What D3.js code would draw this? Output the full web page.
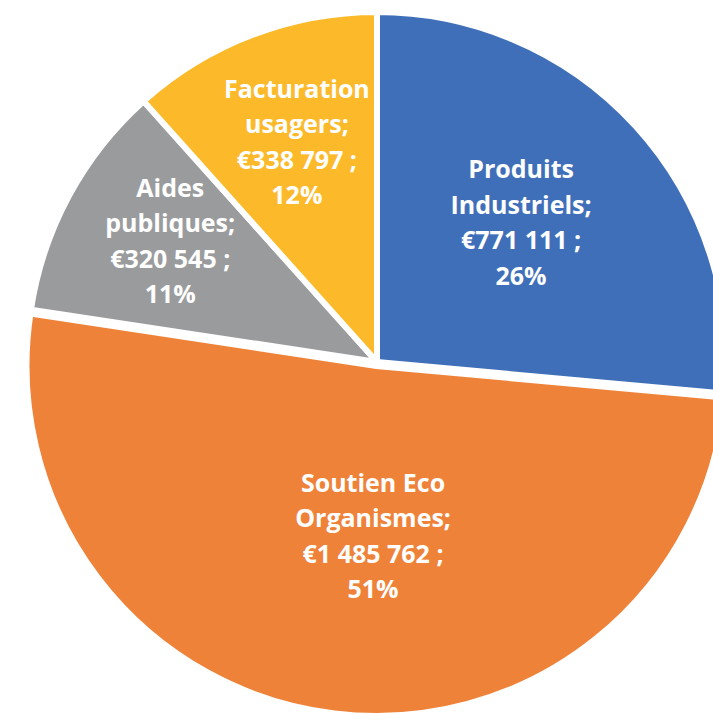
<!DOCTYPE html>
<html>
<head>
<meta charset="utf-8">
<script src="https://cdn.jsdelivr.net/npm/d3@7"></script>
<style>
html, body { margin: 0; padding: 0; background: #ffffff; }
svg { display: block; }
</style>
</head>
<body>
<svg id="chart" width="713" height="714"></svg>
<script>
// ---- data ----
const categories = ["Produits Industriels", "Soutien Eco Organismes", "Aides publiques", "Facturation usagers"];
const values = [771111, 1485762, 320545, 338797];
const percents = ["26%", "51%", "11%", "12%"];
const labelLines = [
  ["Produits", "Industriels;", "€771 111 ;", "26%"],
  ["Soutien Eco", "Organismes;", "€1 485 762 ;", "51%"],
  ["Aides", "publiques;", "€320 545 ;", "11%"],
  ["Facturation", "usagers;", "€338 797 ;", "12%"]
];
const colors = ["#3F6FB8", "#EF8239", "#9A9B9D", "#FCBA2B"];

// ---- layout ----
const cx = 377, cy = 362, R = 350;
const explode = [0, 4, 0, 0];
const labelRadius = [200, 175, 239, 233];
const labelAngleShift = [-1.5, -5.6, 1.7, 0.8]; // degrees
const lineHeight = 35.5;

const svg = d3.select("#chart");
const g = svg.append("g").attr("transform", `translate(${cx},${cy})`);

const pie = d3.pie().sort(null).value(d => d)(values);
const arc = d3.arc().innerRadius(0).outerRadius(R);

g.selectAll("path.slice")
  .data(pie)
  .join("path")
  .attr("class", "slice")
  .attr("d", arc)
  .attr("fill", (d, i) => colors[i])
  .attr("stroke", "#ffffff")
  .attr("stroke-width", 6)
  .attr("stroke-linejoin", "miter")
  .attr("transform", (d, i) => {
    const a = (d.startAngle + d.endAngle) / 2;
    return `translate(${Math.sin(a) * explode[i]},${-Math.cos(a) * explode[i]})`;
  });

g.selectAll("text.lbl")
  .data(pie)
  .join("text")
  .attr("class", "lbl")
  .attr("text-anchor", "middle")
  .attr("fill", "#ffffff")
  .style("font-family", "'Open Sans', sans-serif")
  .style("font-weight", "bold")
  .style("font-size", "25px")
  .each(function (d, i) {
    const a = (d.startAngle + d.endAngle) / 2 + labelAngleShift[i] * Math.PI / 180;
    const lx = Math.sin(a) * labelRadius[i];
    const ly = -Math.cos(a) * labelRadius[i];
    const t = d3.select(this);
    labelLines[i].forEach((s, k) => {
      t.append("tspan")
        .attr("x", lx)
        .attr("y", ly + (k - 1.5) * lineHeight + 8)
        .text(s);
    });
  });
</script>
</body>
</html>
